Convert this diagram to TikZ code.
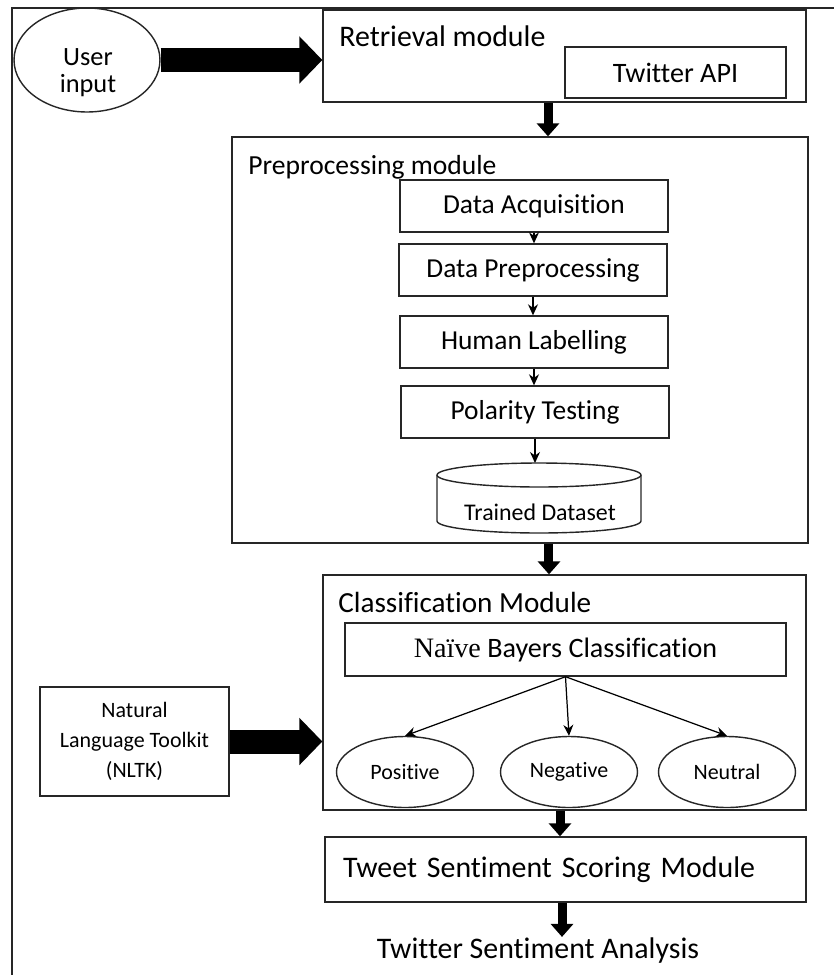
\documentclass[tikz,border=0pt]{standalone}
\usepackage{fontspec}
\setmainfont{Carlito}[Ligatures=CommonOff]
\newfontfamily\serifnb{Liberation Serif}
\usetikzlibrary{arrows.meta,shapes.geometric}

\tikzset{
  box/.style={draw=black!85, line width=0.8pt, rectangle, inner sep=0pt},
  stepbox/.style={box, minimum width=5.36cm, minimum height=1.04cm, font=\fontsize{15.6}{18}\selectfont},
  classell/.style={draw=black!85, line width=0.8pt, ellipse, minimum width=2.74cm, minimum height=1.42cm, inner sep=0pt, font=\fontsize{12.5}{15}\selectfont},
  modtitle/.style={anchor=base west, inner sep=0pt},
  bigarr/.style={line width=0.48cm, -{Triangle[length=0.46cm,width=0.92cm]}},
  midarr/.style={line width=0.18cm, -{Triangle[length=0.26cm,width=0.44cm]}},
  flowarr/.style={line width=0.7pt, -{Stealth[length=2.2mm,width=2mm]}},
}

\begin{document}
\begin{tikzpicture}[x=0.02cm, y=-0.02cm]
  \useasboundingbox (0,0) rectangle (834,975);
  %frame
  \draw[line width=1pt, black!85] (834,8) -- (12,8) -- (12,975);

  %user input
  \node[draw=black!85, ellipse, line width=0.8pt, minimum width=2.92cm, minimum height=2.08cm] (user) at (87,60) {};
  \node[align=center, font=\fontsize{15}{15.5}\selectfont] (usertxt) at (88,73) {User\\input};

  %retrieval
  \node[box, minimum width=9.66cm, minimum height=1.84cm] (retr) at (564.5,56) {};
  \node[modtitle, font=\fontsize{17}{20}\selectfont] (retrt) at (339,46) {Retrieval module};
  \node[box, minimum width=4.42cm, minimum height=1.02cm, font=\fontsize{16}{19}\selectfont] (api) at (675.5,72.5) {Twitter API};
  \draw[bigarr] (user.east) -- (user.east -| retr.west);

  %preprocessing
  \node[box, minimum width=11.52cm, minimum height=8.12cm] (pre) at (520,340) {};
  \node[modtitle, font=\fontsize{15.7}{19}\selectfont] (pret) at (248,174) {Preprocessing module};
  \node[stepbox] (acq) at (534,206) {Data Acquisition};
  \node[stepbox] (dpp) at (533,270) {Data Preprocessing};
  \node[stepbox] (lab) at (534,342) {Human Labelling};
  \node[stepbox] (pol) at (535,412) {Polarity Testing};
  %cylinder
  \draw[line width=0.8pt, black!85] (539,475) ellipse [x radius=2.04cm, y radius=0.24cm];
  \draw[line width=0.8pt, black!85] (437,475) -- (437,521)
    arc[start angle=180, end angle=360, x radius=2.04cm, y radius=0.24cm] -- (641,475);
  \coordinate (dstop) at (539,463);
  \node[font=\fontsize{13.6}{16}\selectfont] (ds) at (540,512) {Trained Dataset};
  \foreach \a/\b in {acq/dpp, dpp/lab, lab/pol}
    \draw[flowarr] (\a.south) -- (\a.south |- \b.north);
  \draw[flowarr] (pol.south) -- (pol.south |- dstop);
  \draw[midarr] ([xshift=-0.33cm]retr.south) -- ([xshift=-0.33cm]retr.south |- pre.north);

  %classification
  \node[box, minimum width=9.66cm, minimum height=4.7cm] (cls) at (564.5,692.5) {};
  \node[modtitle, font=\fontsize{16.6}{19}\selectfont] (clst) at (338,612) {Classification Module};
  \node[box, minimum width=8.82cm, minimum height=1.06cm, font=\fontsize{16}{19}\selectfont] (nb) at (565.5,649.5) {{\serifnb Naïve} Bayers Classification};
  \node[classell] (pos) at (405,772) {Positive};
  \node[classell] (neg) at (569,772) {Negative};
  \node[classell] (neu) at (727,772) {Neutral};
  \foreach \c in {pos,neg,neu}
    \draw[flowarr] (nb.south) -- (\c.north);
  \draw[midarr] ([xshift=0.58cm]pre.south) -- ([xshift=0.58cm]pre.south |- cls.north);

  %nltk
  \node[box, minimum width=3.78cm, minimum height=2.18cm, align=center, font=\fontsize{12.5}{17}\selectfont] (nltk) at (134.5,741.5) {Natural\\Language Toolkit\\(NLTK)};
  \draw[bigarr] (nltk.east) -- (nltk.east -| cls.west);

  %scoring
  \node[box, minimum height=1.3cm, text width=8.9cm, inner xsep=0.36cm, align=left, font=\fontsize{17}{20}\selectfont] (tss) at (565.5,869.5) {Tweet Sentiment Scoring Module};
  \draw[midarr] ([xshift=-0.09cm]cls.south) -- ([xshift=-0.09cm]cls.south |- tss.north);
  \node[anchor=base, inner sep=0pt, font=\fontsize{17}{20}\selectfont] (ana) at (538,958) {Twitter Sentiment Analysis};
  \draw[midarr] ([xshift=-0.07cm]tss.south) -- ([xshift=-0.07cm]tss.south |- ana.north);
\end{tikzpicture}
\end{document}
